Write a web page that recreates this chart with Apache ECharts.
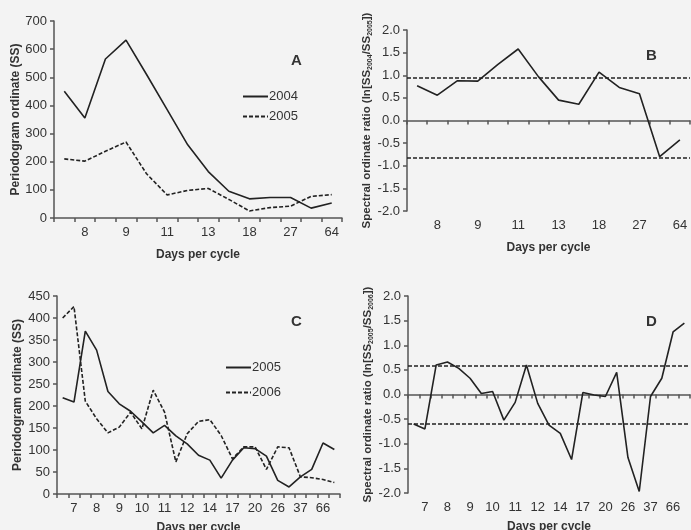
<!DOCTYPE html>
<html>
<head>
<meta charset="utf-8">
<script src="https://cdn.jsdelivr.net/npm/echarts@6/dist/echarts.min.js"></script>
<style>
  html, body { margin: 0; padding: 0; background: #f3f3f3; }
  #chart { width: 691px; height: 530px; }
</style>
</head>
<body>
<div id="chart"></div>
<script>
// x categories (only every other one is labelled)
var daysAB = ['', '8', '', '9', '', '11', '', '13', '', '18', '', '27', '', '64'];
var daysCD = ['', '7', '', '8', '', '9', '', '10', '', '11', '', '12', '', '14', '', '17', '', '20', '', '26', '', '37', '', '66', ''];

// panel A : periodogram 2004 / 2005
var ssA2004 = [450, 355, 565, 632, 510, 385, 260, 165, 95, 68, 73, 73, 35, 53];
var ssA2005 = [210, 202, 237, 270, 157, 82, 98, 105, 66, 25, 37, 42, 77, 83];

// panel B : ln ratio 2004/2005
var ratioB = [0.77, 0.56, 0.88, 0.87, 1.24, 1.58, 0.97, 0.45, 0.36, 1.07, 0.73, 0.59, -0.8, -0.43];
var limitsB = [0.94, -0.82];

// panel C : periodogram 2005 / 2006
var ssC2005 = [219, 209, 370, 327, 233, 205, 188, 164, 139, 156, 132, 114, 88, 77, 36, 77, 105, 103, 86, 31, 16, 39, 56, 116, 101];
var ssC2006 = [400, 426, 211, 171, 139, 152, 186, 148, 236, 186, 73, 137, 165, 169, 133, 80, 107, 107, 56, 107, 105, 39, 37, 33, 26];

// panel D : ln ratio 2005/2006
var ratioD = [-0.6, -0.7, 0.6, 0.66, 0.53, 0.33, 0.02, 0.06, -0.52, -0.16, 0.6, -0.18, -0.62, -0.79, -1.32, 0.04, -0.01, -0.04, 0.45, -1.28, -1.97, -0.04, 0.33, 1.27, 1.45];
var limitsD = [0.58, -0.6];

var txt = '#333';
var ink = '#222';
var fontFam = '"Liberation Sans", Arial, sans-serif';

function xAxis(idx, cats) {
    return {
        type: 'category',
        gridIndex: idx,
        data: cats,
        boundaryGap: true,
        name: 'Days per cycle',
        nameLocation: 'middle',
        nameGap: idx < 2 ? 31 : 28,
        nameTextStyle: { color: txt, fontWeight: 'bold', fontSize: 12, fontFamily: fontFam },
        axisLine: { lineStyle: { color: '#555', width: 1.5 } },
        axisTick: { show: true, interval: 0, length: 4, lineStyle: { color: '#555', width: 1.5 } },
        axisLabel: { interval: 0, color: txt, fontSize: 13, fontFamily: fontFam, margin: 8 },
        splitLine: { show: false }
    };
}

function yAxis(idx, min, max, step, name, gap, rich) {
    return {
        type: 'value',
        gridIndex: idx,
        min: min,
        max: max,
        interval: step,
        name: name,
        nameLocation: 'middle',
        nameGap: gap,
        nameTextStyle: { color: txt, fontWeight: 'bold', fontSize: 12, fontFamily: fontFam, rich: rich },
        axisLine: { show: true, lineStyle: { color: '#555', width: 1.5 } },
        axisTick: { show: true, length: 4, lineStyle: { color: '#555', width: 1.5 } },
        axisLabel: {
            color: txt, fontSize: 13, fontFamily: fontFam, margin: 7,
            formatter: step < 1 ? function (v) { return v.toFixed(1); } : null
        },
        splitLine: { show: false }
    };
}

function lineSeries(name, idx, data, dashed) {
    return {
        name: name,
        type: 'line',
        xAxisIndex: idx,
        yAxisIndex: idx,
        data: data,
        symbol: 'none',
        animation: false,
        lineStyle: { color: ink, width: 1.6, type: dashed ? [4, 2] : 'solid' },
        itemStyle: { color: ink }
    };
}

function limitLines(vals) {
    return {
        silent: true,
        symbol: 'none',
        label: { show: false },
        lineStyle: { color: ink, width: 1.5, type: [4, 2] },
        data: vals.map(function (v) { return { yAxis: v }; })
    };
}

var subRich = {
    a: { fontWeight: 'bold', fontSize: 11.5, color: txt, fontFamily: fontFam },
    s: { fontWeight: 'bold', fontSize: 7, color: txt, fontFamily: fontFam, padding: [6, 0, 0, 0] }
};
var nameB = '{a|Spectral ordinate ratio (ln[SS}{s|2004}{a|/SS}{s|2005}{a|])}';
var nameD = '{a|Spectral ordinate ratio (ln[SS}{s|2005}{a|/SS}{s|2006}{a|])}';

var chart = echarts.init(document.getElementById('chart'));

var serB = lineSeries('ratioB', 1, ratioB, false);
serB.markLine = limitLines(limitsB);
var serD = lineSeries('ratioD', 3, ratioD, false);
serD.markLine = limitLines(limitsD);

// legend: line sample only, the symbol is hidden
var legendBase = {
    orient: 'vertical',
    itemWidth: 25,
    itemHeight: 10,
    itemStyle: { opacity: 0 },
    textStyle: { color: txt, fontSize: 13, padding: [0, 0, 0, -4] }
};

var option = {
    backgroundColor: '#f3f3f3',
    animation: false,
    textStyle: { fontFamily: fontFam },
    title: [
        { text: 'A', left: 286, top: 48, textStyle: { fontSize: 15, fontWeight: 'bold', color: txt } },
        { text: 'B', left: 641, top: 43, textStyle: { fontSize: 15, fontWeight: 'bold', color: txt } },
        { text: 'C', left: 286, top: 309, textStyle: { fontSize: 15, fontWeight: 'bold', color: txt } },
        { text: 'D', left: 641, top: 309, textStyle: { fontSize: 15, fontWeight: 'bold', color: txt } }
    ],
    legend: [
        Object.assign({}, legendBase, { data: ['2004', '2005'], left: 237, top: 85, itemGap: 7 }),
        Object.assign({}, legendBase, {
            data: ['2005 ', '2006'], left: 220, top: 356, itemGap: 12,
            formatter: function (n) { return n.trim(); }
        })
    ],
    // fixed plot boxes, names may sit close to the edge
    grid: [
        { left: 54, top: 21, width: 288, height: 197, outerBoundsMode: 'none' },
        { left: 407, top: 30, width: 283, height: 181, outerBoundsMode: 'none' },
        { left: 57, top: 296, width: 283, height: 198, outerBoundsMode: 'none' },
        { left: 408, top: 296, width: 282, height: 197, outerBoundsMode: 'none' }
    ],
    xAxis: [xAxis(0, daysAB), xAxis(1, daysAB), xAxis(2, daysCD), xAxis(3, daysCD)],
    yAxis: [
        yAxis(0, 0, 700, 100, 'Periodogram ordinate (SS)', 31),
        yAxis(1, -2, 2, 0.5, nameB, 33, subRich),
        yAxis(2, 0, 450, 50, 'Periodogram ordinate (SS)', 33),
        yAxis(3, -2, 2, 0.5, nameD, 33, subRich)
    ],
    series: [
        lineSeries('2004', 0, ssA2004, false),
        lineSeries('2005', 0, ssA2005, true),
        serB,
        lineSeries('2005 ', 2, ssC2005, false),
        lineSeries('2006', 2, ssC2006, true),
        serD
    ]
};
chart.setOption(option);
</script>
</body>
</html>
